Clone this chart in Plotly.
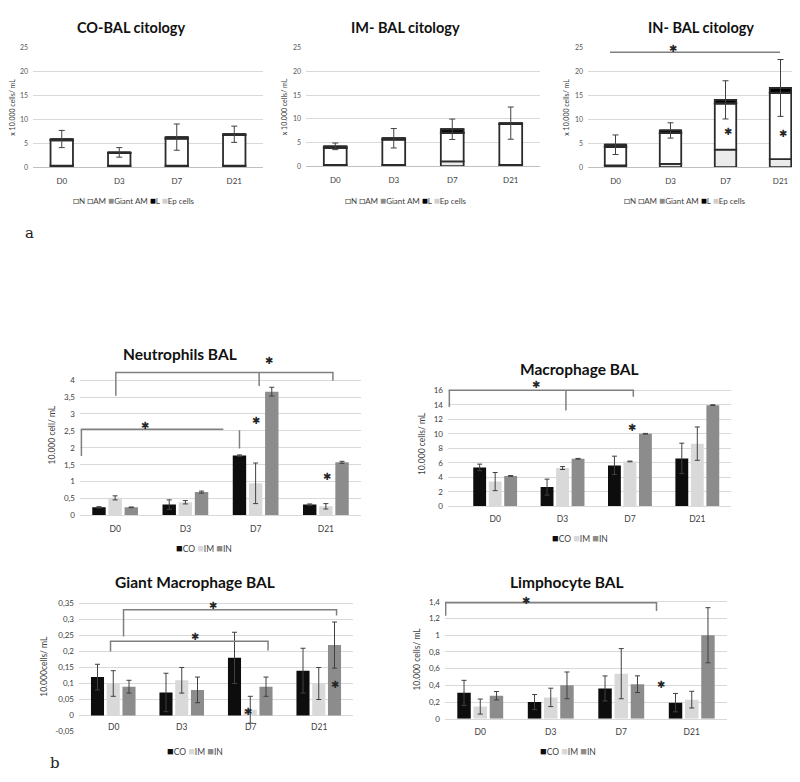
import numpy as np
import plotly.graph_objects as go

W, H = 800, 782
FONT = "Lato, 'Open Sans', sans-serif"
STARFONT = "DejaVu Sans"

days = ["D0", "D3", "D7", "D21"]

# ---------------- Panel a : BAL cytology (x 10.000 cells/mL), stacked ----------------
cyto_series = ["N", "AM", "Giant AM", "L", "Ep cells"]

co_N = [0.3, 0.3, 0.3, 0.3]
co_AM = [5.3, 2.65, 5.7, 6.45]
co_GAM = [0.05, 0.05, 0.05, 0.05]
co_L = [0.25, 0.1, 0.25, 0.1]
co_Ep = [0, 0, 0, 0]
co_err = [1.8, 1.0, 2.75, 1.7]

im_N = [0.3, 0.3, 1.0, 0.3]
im_AM = [3.6, 5.3, 6.0, 8.6]
im_GAM = [0.05, 0.05, 0.1, 0.05]
im_L = [0.25, 0.25, 0.7, 0.15]
im_Ep = [0, 0, 0, 0]
im_err = [0.7, 2.05, 2.15, 3.4]

in_N = [0.4, 0.7, 3.7, 1.7]
in_AM = [3.8, 6.45, 9.6, 13.8]
in_GAM = [0.05, 0.05, 0.1, 0.1]
in_L = [0.45, 0.5, 0.7, 1.0]
in_Ep = [0, 0, 0, 0]
in_err = [2.05, 1.6, 4.0, 5.95]

cyto_ticks = [0, 5, 10, 15, 20, 25]

# significance for panel a (IN)
in_bracket_x = [-0.1, 2.99]
in_bracket_y = [24.1, 24.1]
in_star_x = [1.05, 2.05, 3.05]
in_star_y = [24.9, 7.5, 7.0]

# ---------------- Panel b : cell types by group ----------------
groups = ["CO", "IM", "IN"]

neut_CO = [0.24, 0.32, 1.77, 0.32]
neut_IM = [0.52, 0.39, 0.95, 0.27]
neut_IN = [0.24, 0.69, 3.66, 1.57]
neut_CO_err = [0.02, 0.14, 0.02, 0.02]
neut_IM_err = [0.06, 0.05, 0.6, 0.08]
neut_IN_err = [0.01, 0.03, 0.13, 0.03]
neut_tickvals = [0, 0.5, 1, 1.5, 2, 2.5, 3, 3.5, 4]
neut_ticktext = ["0", "0,5", "1", "1,5", "2", "2,5", "3", "3,5", "4"]

macro_CO = [5.36, 2.64, 5.64, 6.6]
macro_IM = [3.4, 5.27, 6.18, 8.64]
macro_IN = [4.18, 6.55, 10.0, 13.95]
macro_CO_err = [0.45, 1.1, 1.27, 2.1]
macro_IM_err = [1.25, 0.2, 0.05, 2.3]
macro_IN_err = [0.05, 0.05, 0.05, 0.05]
macro_tickvals = [0, 2, 4, 6, 8, 10, 12, 14, 16]
macro_ticktext = ["0", "2", "4", "6", "8", "10", "12", "14", "16"]

giant_CO = [0.12, 0.072, 0.18, 0.14]
giant_IM = [0.10, 0.11, 0.018, 0.10]
giant_IN = [0.09, 0.08, 0.09, 0.22]
giant_CO_err = [0.04, 0.06, 0.08, 0.07]
giant_IM_err = [0.04, 0.04, 0.042, 0.05]
giant_IN_err = [0.02, 0.04, 0.03, 0.072]
giant_tickvals = [-0.05, 0, 0.05, 0.1, 0.15, 0.2, 0.25, 0.3, 0.35]
giant_ticktext = ["-0,05", "0", "0,05", "0,1", "0,15", "0,2", "0,25", "0,3", "0,35"]

lymph_CO = [0.31, 0.20, 0.363, 0.193]
lymph_IM = [0.146, 0.256, 0.54, 0.229]
lymph_IN = [0.276, 0.40, 0.414, 1.0]
lymph_CO_err = [0.15, 0.09, 0.15, 0.11]
lymph_IM_err = [0.09, 0.11, 0.3, 0.1]
lymph_IN_err = [0.05, 0.16, 0.1, 0.33]
lymph_tickvals = [0, 0.2, 0.4, 0.6, 0.8, 1.0, 1.2, 1.4]
lymph_ticktext = ["0", "0,2", "0,4", "0,6", "0,8", "1", "1,2", "1,4"]

# significance brackets (x in day-index units, y in data units)
neut_brackets = [
    ([0.01, 0.01, 3.1, 3.1], [3.54, 4.23, 4.23, 3.98]),
    ([2.05, 2.05], [4.23, 3.83]),
    ([-0.48, -0.48, 1.54], [1.76, 2.55, 2.55]),
    ([1.77, 1.77], [2.52, 1.98]),
]
neut_stars = ([2.19, 0.43, 2.0, 3.02], [4.57, 2.67, 2.82, 1.15])

macro_brackets = [
    ([-0.68, -0.68, 2.05, 2.05], [13.7, 16.0, 16.0, 15.1]),
    ([1.05, 1.05], [16.0, 13.2]),
]
macro_stars = ([0.6, 2.03], [16.8, 10.8])

giant_brackets = [
    ([0.15, 0.15, 3.26, 3.26], [0.247, 0.33, 0.33, 0.312]),
    ([-0.04, -0.04, 2.26, 2.26], [0.2, 0.232, 0.232, 0.203]),
]
giant_stars = ([1.46, 1.19, 1.97, 3.23], [0.345, 0.247, 0.013, 0.098])

lymph_brackets = [
    ([-0.49, -0.49, 2.5, 2.5], [1.234, 1.39, 1.39, 1.29]),
]
lymph_stars = ([0.65, 2.56], [1.41, 0.41])

# ---------------- styling ----------------
seg_colors = ["#ebebeb", "#ffffff", "#808080", "#000000", "#d0d0d0"]
grp_colors = ["#0d0d0d", "#d9d9d9", "#8c8c8c"]
GRID = "#d9d9d9"
ERR = "#404040"
BRK = "#7f7f7f"


def px(x):
    return x / W


def py(y):
    return 1 - y / H


def star(xa, ya, x, y):
    return dict(text="✱", xref=xa, yref=ya, x=x, y=y, showarrow=False,
                font=dict(size=10, color="#262626", family=STARFONT))


fig = go.Figure()
layout = dict(
    width=W, height=H, margin=dict(l=0, r=0, t=0, b=0),
    paper_bgcolor="white", plot_bgcolor="white",
    barmode="group", bargap=0.31, bargroupgap=0.17,
    showlegend=False, font=dict(family=FONT, color="#404040"),
    annotations=[],
)

xpos = np.arange(len(days))

# ----- panel a axes -----
a_panels = [
    ("CO-BAL citology", [co_N, co_AM, co_GAM, co_L, co_Ep], co_err, (25, 255), (157, 36), 123, 126),
    ("IM- BAL citology", [im_N, im_AM, im_GAM, im_L, im_Ep], im_err, (298, 532), (156, 36), 397, 398),
    ("IN- BAL citology", [in_N, in_AM, in_GAM, in_L, in_Ep], in_err, (580, 800), (157, 36), 693, 677),
]
for i, (title, segs, err, (x0, x1), (y0, y1), tx, lx) in enumerate(a_panels, start=1):
    xa, ya = f"x{i}", f"y{i}"
    base = np.zeros(len(days))
    for name, vals, col in zip(cyto_series, segs, seg_colors):
        vals = np.array(vals, dtype=float)
        fig.add_trace(go.Bar(
            x=xpos, y=vals, base=base.copy(), name=name, xaxis=xa, yaxis=ya,
            offsetgroup="stack", width=0.39, offset=-0.195,
            marker=dict(color=col, line=dict(color="#2b2b2b", width=1.8)),
            hoverinfo="skip"))
        base = base + vals
    fig.add_trace(go.Scatter(
        x=xpos, y=base, mode="markers", marker=dict(size=1, opacity=0),
        xaxis=xa, yaxis=ya, cliponaxis=False, hoverinfo="skip",
        error_y=dict(type="data", array=err, color=ERR, thickness=1, width=3)))
    sfx = "" if i == 1 else str(i)
    layout["xaxis" + sfx] = dict(
        domain=[px(x0), px(x1)], anchor=ya, range=[-0.5, 3.5],
        tickvals=list(xpos), ticktext=days, showgrid=False, zeroline=False,
        showline=True, linecolor="#bfbfbf", linewidth=1, ticks="",
        tickfont=dict(size=8, color="#404040"), ticklabelstandoff=6, fixedrange=True)
    layout["yaxis" + sfx] = dict(
        domain=[py(y0), py(y1)], anchor=xa, range=[0, 25.05],
        tickvals=cyto_ticks, ticktext=[str(t) for t in cyto_ticks],
        showgrid=True, gridcolor=GRID, gridwidth=1, zeroline=False, showline=False,
        tickfont=dict(size=7, color="#595959"), ticklabelstandoff=4,
        title=dict(text="x 10.000 cells/ mL", font=dict(size=7, color="#404040"), standoff=4))
    layout["annotations"].append(dict(
        text=f"<b>{title}</b>", xref="paper", yref="paper", x=px(tx), y=py(16),
        showarrow=False, font=dict(size=14.5, color="#111111", family=FONT),
        xanchor="center", yanchor="middle"))
    sym = ["□", "□", "■", "■", "■"]
    symcol = ["#404040", "#404040", "#8c8c8c", "#000000", "#cfcfcf"]
    leg = " ".join(f"<span style='color:{c};font-size:10px'>{s}</span>{n}"
                   for s, c, n in zip(sym, symcol, cyto_series))
    layout["annotations"].append(dict(
        text=leg, xref="paper", yref="paper", x=px(lx), y=py(190), showarrow=False,
        font=dict(size=8, color="#404040", family=FONT), xanchor="center", yanchor="middle"))

# IN significance (panel a)
fig.add_trace(go.Scatter(x=in_bracket_x, y=in_bracket_y, mode="lines", xaxis="x3", yaxis="y3",
                         line=dict(color=BRK, width=1.5), hoverinfo="skip"))
for sx, sy in zip(in_star_x, in_star_y):
    layout["annotations"].append(star("x3", "y3", sx, sy))

layout["annotations"].append(dict(text="a", xref="paper", yref="paper", x=px(15), y=py(212),
                                  showarrow=False, font=dict(size=15, color="#222222", family="DejaVu Serif")))
layout["annotations"].append(dict(text="b", xref="paper", yref="paper", x=px(40), y=py(771),
                                  showarrow=False, font=dict(size=15, color="#222222", family="DejaVu Serif")))

# ----- panel b -----
b_panels = [
    ("Neutrophils BAL", [neut_CO, neut_IM, neut_IN], [neut_CO_err, neut_IM_err, neut_IN_err],
     (72, 353), [-0.5, 3.5], (509.3, 346.8), [0, 4.75], neut_tickvals, neut_ticktext,
     "10.000 cell/ mL", neut_brackets, neut_stars, (172, 346), (196, 542)),
    ("Macrophage BAL", [macro_CO, macro_IM, macro_IN], [macro_CO_err, macro_IM_err, macro_IN_err],
     (440, 723), [-0.7, 3.5], (500, 373.9), [0, 17.2], macro_tickvals, macro_ticktext,
     "10.000 cells/ mL", macro_brackets, macro_stars, (571, 361), (572, 532)),
    ("Giant Macrophage BAL", [giant_CO, giant_IM, giant_IN], [giant_CO_err, giant_IM_err, giant_IN_err],
     (71, 345), [-0.5, 3.5], (727.9, 596.7), [-0.05, 0.355], giant_tickvals, giant_ticktext,
     "10.000cells/ mL", giant_brackets, giant_stars, (187, 577), (187, 747)),
    ("Limphocyte BAL", [lymph_CO, lymph_IM, lymph_IN], [lymph_CO_err, lymph_IM_err, lymph_IN_err],
     (437, 719), [-0.5, 3.5], (715, 595), [0, 1.42], lymph_tickvals, lymph_ticktext,
     "10.000 cells/ mL", lymph_brackets, lymph_stars, (559, 577), (560, 747)),
]

for k, (title, series, errs, (x0, x1), xr, (y0, y1), yr, tv, tt, ytitle, brackets, stars, (tx, ty), (lx, ly)) in enumerate(b_panels, start=4):
    xa, ya = f"x{k}", f"y{k}"
    for g, vals, e, col in zip(groups, series, errs, grp_colors):
        fig.add_trace(go.Bar(
            x=xpos, y=vals, name=g, xaxis=xa, yaxis=ya, offsetgroup=g,
            marker=dict(color=col, line=dict(width=0)), hoverinfo="skip",
            error_y=dict(type="data", array=e, color=ERR, thickness=1, width=2.5)))
    for bx, by in brackets:
        fig.add_trace(go.Scatter(x=bx, y=by, mode="lines", xaxis=xa, yaxis=ya,
                                 line=dict(color=BRK, width=1.5), hoverinfo="skip"))
    for sx, sy in zip(*stars):
        layout["annotations"].append(star(xa, ya, sx, sy))
    giant = title.startswith("Giant")
    layout["xaxis" + str(k)] = dict(
        domain=[px(x0), px(x1)], anchor=ya, range=xr,
        tickvals=list(xpos), ticktext=days, showgrid=False, zeroline=False,
        showline=not giant, linecolor="#d9d9d9", linewidth=1, ticks="",
        showticklabels=not giant,
        tickfont=dict(size=8.5, color="#404040"), ticklabelstandoff=5, fixedrange=True)
    layout["yaxis" + str(k)] = dict(
        domain=[py(y0), py(y1)], anchor=xa, range=yr, tickvals=tv, ticktext=tt,
        showgrid=True, gridcolor=GRID, gridwidth=1, zeroline=False, showline=False,
        tickfont=dict(size=8, color="#404040"), ticklabelstandoff=4,
        title=dict(text=ytitle, font=dict(size=8.5, color="#404040"), standoff=6))
    if giant:
        for xi, d in zip(xpos, days):
            layout["annotations"].append(dict(text=d, xref=xa, yref=ya, x=xi, y=0, yanchor="top",
                                              yshift=-4, showarrow=False,
                                              font=dict(size=8.5, color="#404040")))
    layout["annotations"].append(dict(
        text=f"<b>{title}</b>", xref="paper", yref="paper", x=px(tx), y=py(ty),
        showarrow=False, font=dict(size=15.5, color="#111111", family=FONT),
        xanchor="center", yanchor="middle"))
    leg = " ".join(f"<span style='color:{c};font-size:11px'>■</span>{g}" for g, c in zip(groups, grp_colors))
    layout["annotations"].append(dict(
        text=leg, xref="paper", yref="paper", x=px(lx), y=py(ly), showarrow=False,
        font=dict(size=8.5, color="#404040", family=FONT), xanchor="center", yanchor="middle"))

fig.update_layout(**layout)
fig.write_html("out.html")
